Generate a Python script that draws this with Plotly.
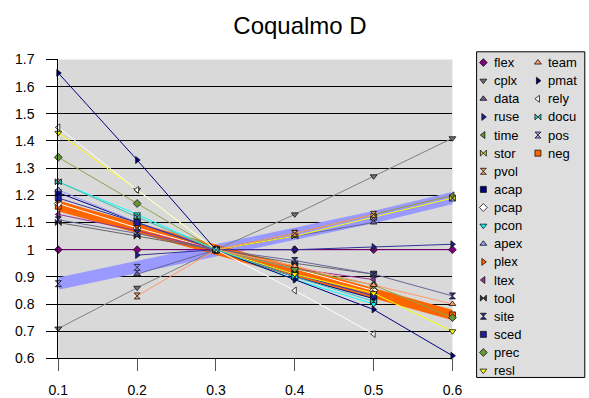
import plotly.graph_objects as go

# ---------------- data ----------------
x_vals = [0.1, 0.2, 0.3, 0.4, 0.5, 0.6]
x_labels = ["0.1", "0.2", "0.3", "0.4", "0.5", "0.6"]
y_ticks = [0.6, 0.7, 0.8, 0.9, 1.0, 1.1, 1.2, 1.3, 1.4, 1.5, 1.6, 1.7]
y_labels = ["0.6", "0.7", "0.8", "0.9", "1", "1.1", "1.2", "1.3", "1.4", "1.5", "1.6", "1.7"]

flex = [1.00, 1.00, 1.00, 1.00, 1.00, 1.00]
cplx = [0.71, 0.86, 1.00, 1.13, 1.27, 1.41]
data = [None, 0.91, 1.00, 1.05, 1.10, None]
ruse = [None, 0.98, 1.00, 1.00, 1.01, 1.02]
time = [None, None, 1.00, 1.06, 1.13, 1.20]
stor = [None, None, 1.00, 1.05, 1.12, 1.19]
pvol = [None, 0.83, 1.00, 1.06, 1.13, None]
acap = [1.21, 1.10, 1.00, 0.90, 0.82, None]
pcap = [1.17, 1.08, 1.00, 0.93, 0.85, None]
pcon = [1.25, 1.13, 1.00, 0.89, 0.80, None]
apex = [1.22, 1.10, 1.00, 0.91, 0.83, None]
plex = [1.18, 1.09, 1.00, 0.91, 0.84, None]
ltex = [1.13, 1.07, 1.00, 0.93, 0.89, None]
tool = [1.10, 1.05, 1.00, 0.95, 0.91, None]
site = [1.11, 1.06, 1.00, 0.96, 0.91, 0.83]
sced = [1.19, 1.10, 1.00, 0.91, 0.83, None]
prec = [1.34, 1.17, 1.00, 0.93, 0.87, 0.75]
resl = [1.43, 1.22, 1.00, 0.91, 0.84, 0.70]
team = [1.25, 1.12, 1.00, 0.94, 0.87, 0.80]
pmat = [1.65, 1.33, 1.00, 0.89, 0.78, 0.61]
rely = [1.45, 1.22, 1.00, 0.85, 0.69, None]
docu = [1.25, 1.12, 1.00, 0.90, 0.81, None]
pos = [0.875, 0.935, 1.00, 1.06, 1.12, 1.19]
neg = [1.16, 1.08, 1.00, 0.92, 0.845, 0.76]

series_names = ["flex", "cplx", "data", "ruse", "time", "stor", "pvol", "acap",
                "pcap", "pcon", "apex", "plex", "ltex", "tool", "site", "sced",
                "prec", "resl", "team", "pmat", "rely", "docu", "pos", "neg"]
series_values = [flex, cplx, data, ruse, time, stor, pvol, acap, pcap, pcon, apex,
                 plex, ltex, tool, site, sced, prec, resl, team, pmat, rely, docu,
                 pos, neg]

# ---------------- styles ----------------
style = {
    "flex": ("#800080", "#800080", "diamond"),
    "cplx": ("#808080", "#707070", "triangle-down"),
    "data": ("#666699", "#6A5A9A", "triangle-up"),
    "ruse": ("#333399", "#1F1F99", "triangle-right"),
    "time": ("#999933", "#669933", "triangle-left"),
    "stor": ("#FFFF00", "#CCCC33", "bowtie"),
    "pvol": ("#FF9966", "#FF9966", "hourglass"),
    "acap": ("#000080", "#000080", "square"),
    "pcap": ("#FFFFFF", "#FFFFFF", "diamond"),
    "pcon": ("#00FFFF", "#00FFFF", "triangle-down"),
    "apex": ("#9999FF", "#9999FF", "triangle-up"),
    "plex": ("#FF6600", "#FF6600", "triangle-right"),
    "ltex": ("#993399", "#993399", "triangle-left"),
    "tool": ("#666666", "#333333", "bowtie"),
    "site": ("#666699", "#333399", "hourglass"),
    "sced": ("#333399", "#1F1FA0", "square"),
    "prec": ("#88A64A", "#669933", "diamond"),
    "resl": ("#FFFF00", "#FFFF00", "triangle-down"),
    "team": ("#FF9966", "#FF9966", "triangle-up"),
    "pmat": ("#000080", "#000080", "triangle-right"),
    "rely": ("#FFFFFF", "#FFFFFF", "triangle-left"),
    "docu": ("#33CCCC", "#33CCCC", "bowtie"),
    "pos": ("#9999FF", "#9999FF", "hourglass"),
    "neg": ("#FF6600", "#FF6600", "square"),
}
band_width = {"pos": 12, "neg": 10}

W, H = 589, 398
fig = go.Figure()

# bands first (below the thin lines)
order = ["pos", "neg"] + [n for n in series_names if n not in ("pos", "neg")]
vals = dict(zip(series_names, series_values))
for name in order:
    lc, mc, sym = style[name]
    lw = band_width.get(name, 1)
    fig.add_trace(go.Scatter(
        x=x_vals, y=vals[name], name=name, mode="lines+markers",
        line=dict(color=lc, width=lw),
        marker=dict(symbol=sym, size=6, color=mc, line=dict(color="#111111", width=0.8)),
        cliponaxis=False, showlegend=False, xaxis="x", yaxis="y"))

# ---------------- custom legend (on a hidden helper subplot) ----------------
col1 = series_names[:18]
col2 = series_names[18:]
row0, rowh = 57.3, 19.03
annotations = []
for col, mx, tx in ((col1, 490, 499), (col2, 546.5, 555)):
    ys = [row0 + rowh * i for i in range(len(col))]
    for name, yy in zip(col, ys):
        lc, mc, sym = style[name]
        fig.add_trace(go.Scatter(
            x=[mx], y=[yy], mode="markers", showlegend=False, hoverinfo="skip",
            marker=dict(symbol=sym, size=6, color=mc, line=dict(color="#111111", width=0.8)),
            cliponaxis=False, xaxis="x2", yaxis="y2"))
        annotations.append(dict(x=tx, y=yy, xref="x2", yref="y2", text=name,
                                showarrow=False, xanchor="left", yanchor="middle",
                                font=dict(size=13, color="black",
                                          family="Liberation Sans, Arial, sans-serif")))

shapes = [
    dict(type="rect", xref="x domain", yref="y domain", x0=0, x1=1, y0=0, y1=1,
         fillcolor="#D9D9D9", line=dict(width=0), layer="below"),
    dict(type="rect", xref="paper", yref="paper", x0=483 / W, x1=595 / W,
         y0=(H - 388) / H, y1=(H - 46) / H,
         fillcolor="#DEDEDE", line=dict(color="black", width=1), layer="below"),
]

font = dict(family="Liberation Sans, Arial, sans-serif", size=14, color="black")
fig.update_layout(
    width=W, height=H,
    margin=dict(l=0, r=0, t=0, b=0),
    paper_bgcolor="white", plot_bgcolor="rgba(0,0,0,0)",
    font=font,
    title=dict(text="Coqualmo D", x=300 / W, xanchor="center", y=1 - 26 / H,
               yanchor="middle",
               font=dict(size=24, color="black",
                         family="Liberation Sans, Arial, sans-serif")),
    xaxis=dict(domain=[50 / W, 458 / W], range=[0.1, 0.6], tickvals=x_vals,
               ticktext=x_labels, showgrid=False, zeroline=False,
               showline=True, linecolor="black", linewidth=1,
               ticks="outside", ticklen=12, tickcolor="#555555", tickwidth=1,
               ticklabelstandoff=7, anchor="y", tickfont=font),
    yaxis=dict(domain=[30 / H, 344 / H], range=[0.6, 1.7], tickvals=y_ticks,
               ticktext=y_labels, showgrid=True, gridcolor="black", gridwidth=1,
               zeroline=False, showline=True, linecolor="black", linewidth=1,
               ticks="outside", ticklen=11, tickcolor="black",
               ticklabelstandoff=9, anchor="x", tickfont=font),
    xaxis2=dict(domain=[483 / W, 1.0], range=[483, 589], visible=False,
                anchor="y2", fixedrange=True),
    yaxis2=dict(domain=[0, 1], range=[H, 0], visible=False, anchor="x2",
                fixedrange=True),
    annotations=annotations,
    shapes=shapes,
    showlegend=False,
)

fig.write_html("out.html")
